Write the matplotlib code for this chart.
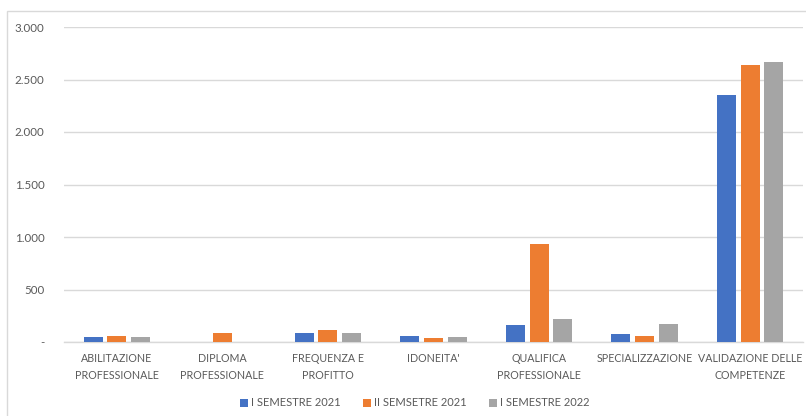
import numpy as np
import matplotlib
matplotlib.use('Agg')
import matplotlib.pyplot as plt
from matplotlib.patches import Rectangle

categories = ['ABILITAZIONE\nPROFESSIONALE', 'DIPLOMA\nPROFESSIONALE', 'FREQUENZA E\nPROFITTO',
              "IDONEITA'", 'QUALIFICA\nPROFESSIONALE', 'SPECIALIZZAZIONE',
              'VALIDAZIONE DELLE\nCOMPETENZE']
series_names = ['I SEMESTRE 2021', 'II SEMSETRE 2021', 'I SEMESTRE 2022']
sem1_2021 = [45, 0, 90, 55, 160, 72, 2350]
sem2_2021 = [55, 85, 115, 38, 930, 55, 2640]
sem1_2022 = [50, 0, 90, 48, 215, 175, 2665]
yticks = [0, 500, 1000, 1500, 2000, 2500, 3000]
ytick_labels = ['-', '500', '1.000', '1.500', '2.000', '2.500', '3.000']

colors = ['#4472C4', '#ED7D31', '#A5A5A5']
txt = '#595959'
plt.rcParams['font.family'] = ['Lato', 'DejaVu Sans']

fig = plt.figure(figsize=(8.06, 4.16), dpi=100)
# chart border (only left/top edges are in view)
fig.patches.append(Rectangle((7/806, -0.5), 2, 1.5 - 11/416, transform=fig.transFigure,
                             fill=False, edgecolor='#d9d9d9', linewidth=1.0))
ax = fig.add_axes([64/806, 74/416, 739/806, 315/416])

x = np.arange(len(categories))
w = 0.18
off = 0.225
for i, (vals, name) in enumerate(zip([sem1_2021, sem2_2021, sem1_2022], series_names)):
    ax.bar(x + (i - 1) * off, vals, width=w, color=colors[i], label=name, zorder=3)

ax.set_xlim(-0.5, len(categories) - 0.5)
ax.set_ylim(0, 3000)
ax.set_yticks(yticks)
ax.set_yticklabels(ytick_labels)
ax.set_xticks(x)
ax.set_xticklabels(categories, linespacing=1.7)
ax.tick_params(axis='both', length=0, colors=txt)
ax.tick_params(axis='y', pad=14, labelsize=8.3)
ax.tick_params(axis='x', pad=8, labelsize=7.7)
ax.grid(axis='y', color='#d9d9d9', linewidth=1.0, zorder=0)
for s in ['top', 'right', 'left']:
    ax.spines[s].set_visible(False)
ax.spines['bottom'].set_color('#d9d9d9')
ax.spines['bottom'].set_linewidth(1.0)

leg = fig.legend(loc='center', bbox_to_anchor=(415/806, 1 - 403/416), ncol=3, frameon=False,
                 fontsize=8, handlelength=0.7, handleheight=0.7, handletextpad=0.3,
                 columnspacing=2.0)
for t in leg.get_texts():
    t.set_color(txt)

fig.savefig('out.png', dpi=100)
